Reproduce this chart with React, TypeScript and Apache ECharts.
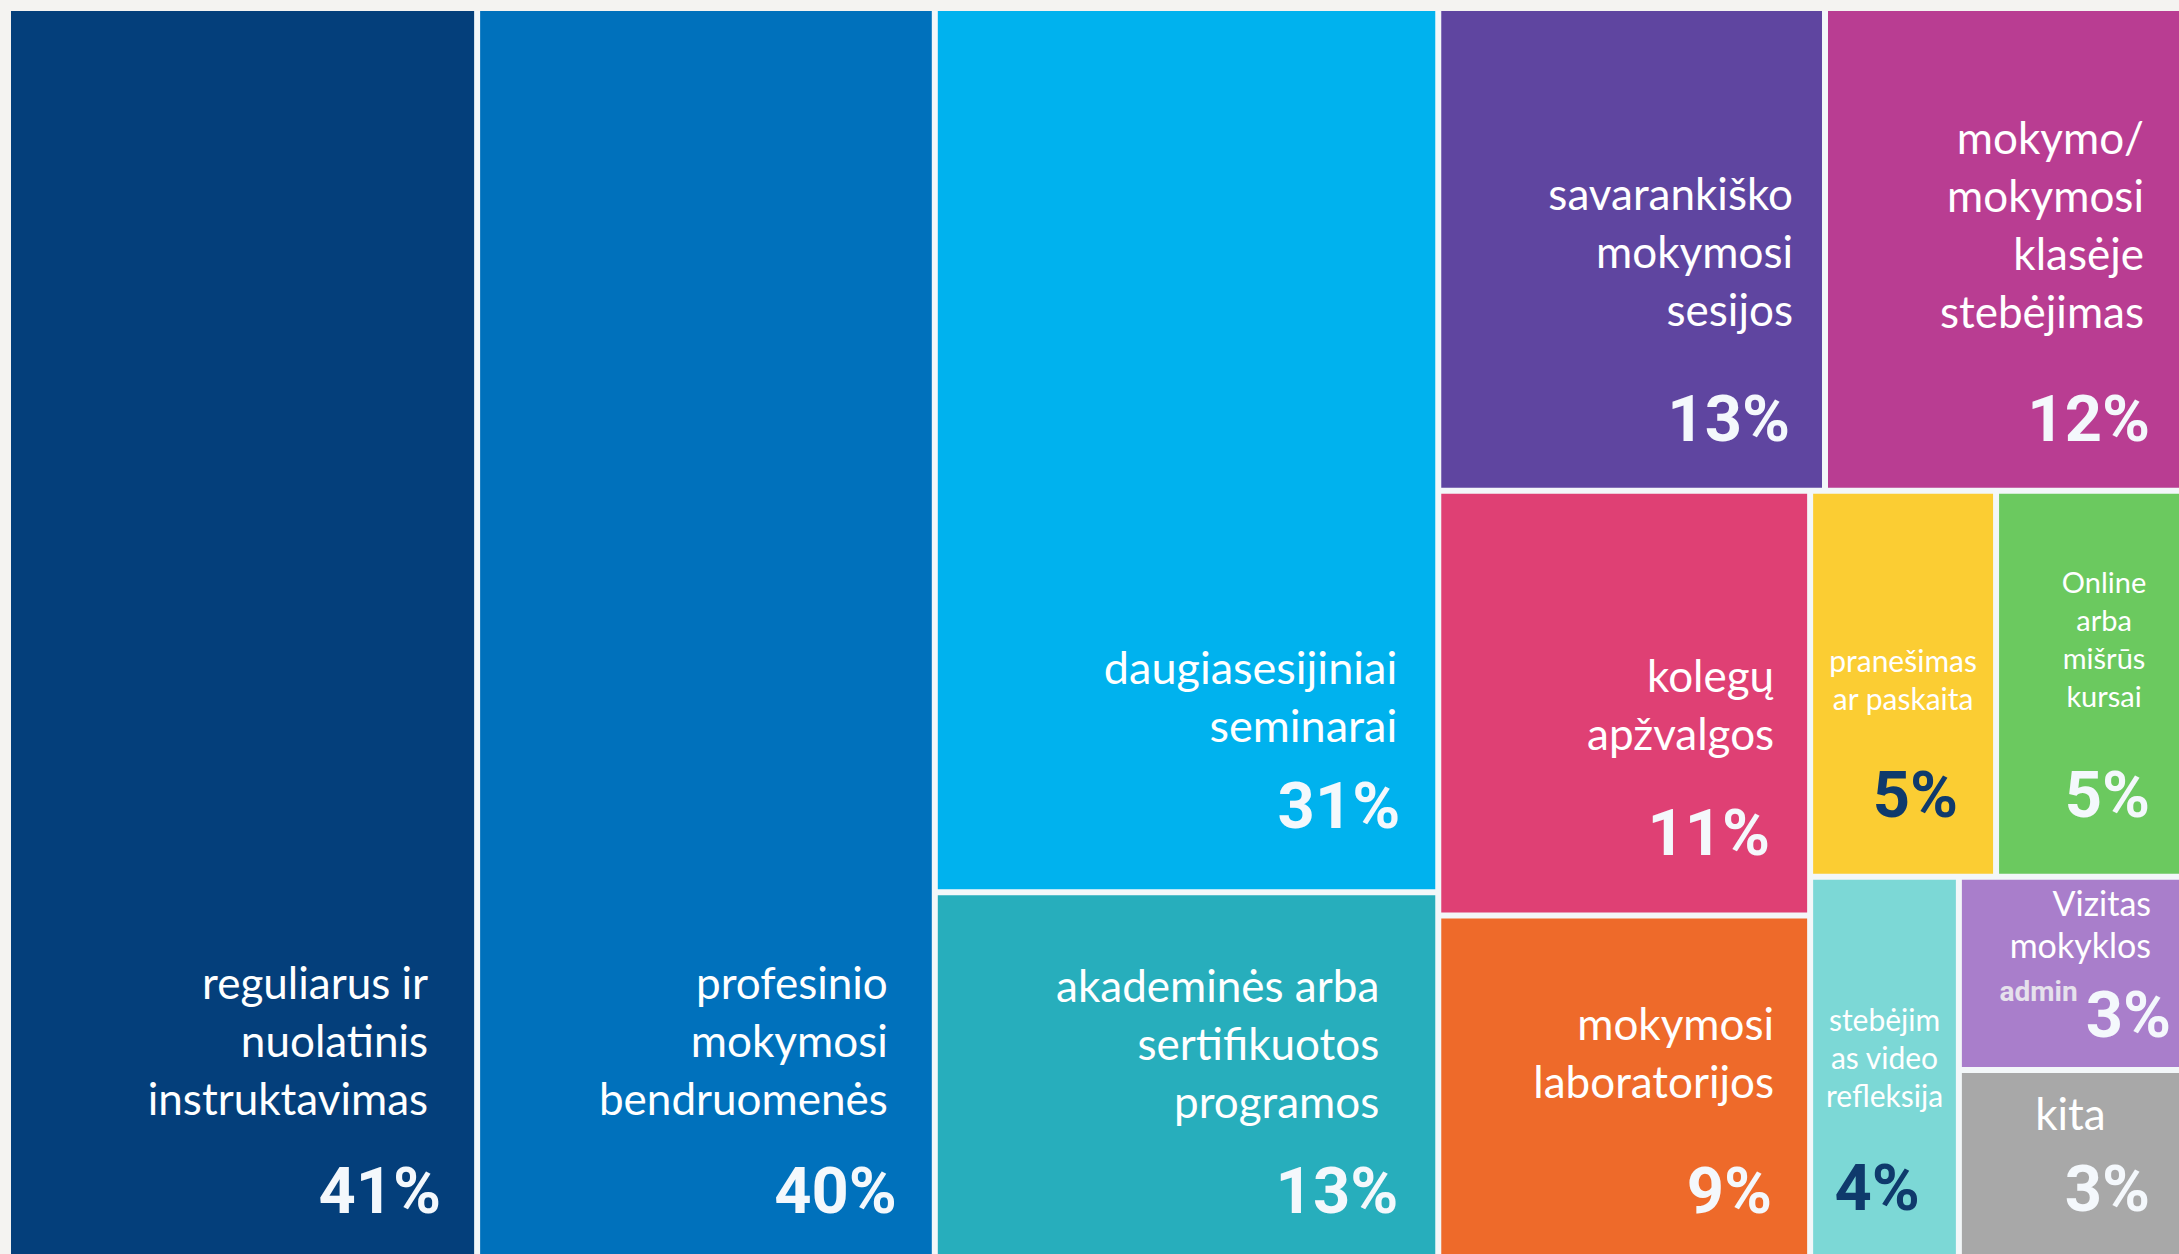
import React, { useEffect, useRef } from "react";
import * as echarts from "echarts";

// ---- data ----
const categories = [
  "reguliarus ir\nnuolatinis\ninstruktavimas",
  "profesinio\nmokymosi\nbendruomenės",
  "daugiasesijiniai\nseminarai",
  "akademinės arba\nsertifikuotos\nprogramos",
  "savarankiško\nmokymosi\nsesijos",
  "mokymo/\nmokymosi\nklasėje\nstebėjimas",
  "kolegų\napžvalgos",
  "mokymosi\nlaboratorijos",
  "pranešimas\nar paskaita",
  "Online\narba\nmišrūs\nkursai",
  "stebėjim\nas video\nrefleksija",
  "Vizitas\nmokyklos\nadmin",
  "kita",
];
const shares = [41, 40, 31, 13, 13, 12, 11, 9, 5, 5, 4, 3, 3];
const tileColors = [
  "#043F7B", "#0071BC", "#00B2EE", "#27AEBC", "#5F45A0", "#B93D92", "#DF4074",
  "#EE6A2A", "#FBCD33", "#6BC95F", "#7CD8D6", "#A97ECB", "#A8A8A8",
];
// how the tiles are grouped (indices into the arrays above)
const nesting: any[] = [[0, 1], [[2, 3], [[4, 5], [[6, 7], [[8, 9], [10, [11, 12]]]]]]];

// ---- styles ----
const NAME_FONT = "Lato, 'Open Sans', sans-serif";
const PCT_FONT = "Roboto, 'Open Sans', sans-serif";
const PCT_SIZE = 65;
const WHITE = "#F4F8FC";
const NAVY = "#0F3A6C";
const GAP = "#F3F7F9";

type Kind = "right" | "center" | "viz";
interface LabelStyle {
  kind: Kind; size: number; lh: number; namePad: number; nameLeftPad: number; pctPad: number;
  gap: number; fromBottom: number; pctColor: string;
}
const labelStyles: LabelStyle[] = [
  { kind: "right", size: 44, lh: 58, namePad: 46, nameLeftPad: 0, pctPad: 33, gap: 93, fromBottom: 69, pctColor: WHITE },
  { kind: "right", size: 44, lh: 58, namePad: 44, nameLeftPad: 0, pctPad: 35, gap: 93, fromBottom: 69, pctColor: WHITE },
  { kind: "right", size: 45, lh: 58, namePad: 38, nameLeftPad: 0, pctPad: 35, gap: 81, fromBottom: 83, pctColor: WHITE },
  { kind: "right", size: 44, lh: 58, namePad: 56, nameLeftPad: 0, pctPad: 37, gap: 90, fromBottom: 69, pctColor: WHITE },
  { kind: "right", size: 44, lh: 58, namePad: 29, nameLeftPad: 0, pctPad: 32, gap: 110, fromBottom: 69, pctColor: WHITE },
  { kind: "right", size: 44, lh: 58, namePad: 35, nameLeftPad: 0, pctPad: 29, gap: 108, fromBottom: 69, pctColor: WHITE },
  { kind: "right", size: 44, lh: 58, namePad: 33, nameLeftPad: 0, pctPad: 37, gap: 100, fromBottom: 79, pctColor: WHITE },
  { kind: "right", size: 44, lh: 58, namePad: 33, nameLeftPad: 0, pctPad: 35, gap: 110, fromBottom: 69, pctColor: WHITE },
  { kind: "center", size: 30, lh: 38, namePad: 0, nameLeftPad: 0, pctPad: 35, gap: 97, fromBottom: 79, pctColor: NAVY },
  { kind: "center", size: 29, lh: 38, namePad: 0, nameLeftPad: 30, pctPad: 29, gap: 99, fromBottom: 79, pctColor: WHITE },
  { kind: "center", size: 30, lh: 38, namePad: 0, nameLeftPad: 0, pctPad: 36, gap: 93, fromBottom: 72, pctColor: NAVY },
  { kind: "viz", size: 34, lh: 42, namePad: 28, nameLeftPad: 0, pctPad: 8, gap: 70, fromBottom: 52, pctColor: WHITE },
  { kind: "center", size: 44, lh: 58, namePad: 0, nameLeftPad: 0, pctPad: 29, gap: 76, fromBottom: 71, pctColor: WHITE },
];

const layoutByText = new Map<string, { height: number; bottom: number }>();

function makeLabel(i: number) {
  const s = labelStyles[i];
  const lines = categories[i].split("\n");
  const pct = `${shares[i]}%`;
  const nameLines = s.kind === "viz" ? lines.slice(0, -1) : lines;
  const lv = 2 * s.gap - s.lh;
  let text = nameLines.map((l) => `{n|${l}}`).join("\n");
  if (s.kind === "viz") text += `\n{a|${lines[lines.length - 1]}}{v|${pct}}`;
  else text += `\n{v|${pct}}`;
  layoutByText.set(text, { height: nameLines.length * s.lh + lv, bottom: s.fromBottom - lv / 2 });
  return {
    show: true,
    formatter: text,
    rich: {
      n: {
        fontFamily: NAME_FONT, fontSize: s.size, lineHeight: s.lh, color: "#FFFFFF",
        align: s.kind === "center" ? "center" : "right",
        padding: [0, s.namePad, 0, s.nameLeftPad],
      },
      v: {
        fontFamily: PCT_FONT, fontWeight: "bold", fontSize: PCT_SIZE, lineHeight: lv,
        color: s.pctColor, align: "right", padding: [0, s.pctPad, 0, 0],
      },
      a: {
        fontFamily: PCT_FONT, fontWeight: "bold", fontSize: 28, lineHeight: 40,
        color: "#E6E1EC", align: "right", verticalAlign: "top", padding: [12, 8, 0, 0],
      },
    },
  };
}

function build(spec: any): any {
  if (typeof spec === "number") {
    return {
      name: categories[spec].replace(/\n/g, " "),
      value: shares[spec],
      itemStyle: { color: tileColors[spec] },
      label: makeLabel(spec),
    };
  }
  return { name: "", children: spec.map(build) };
}

export default function App() {
  const ref = useRef<HTMLDivElement>(null);
  useEffect(() => {
    if (!ref.current) return;
    const chart = echarts.init(ref.current, undefined, { renderer: "svg" });
    const option: any = {
      animation: false,
      series: [
        {
          type: "treemap",
          left: 11,
          top: 11,
          width: 2168,
          height: 1249,
          squareRatio: 1.5,
          sort: false,
          roam: false,
          nodeClick: false,
          breadcrumb: { show: false },
          itemStyle: { borderWidth: 0, gapWidth: 6, borderColor: GAP },
          label: { show: true, padding: 0, overflow: "none" },
          upperLabel: { show: false },
          emphasis: { disabled: true },
          labelLayout: (p: any) => {
            const info = layoutByText.get(p.text);
            if (!info || !p.rect) return {};
            const r = p.rect;
            return {
              x: r.x + r.width,
              y: r.y + r.height - info.bottom - info.height,
              align: "right",
              verticalAlign: "top",
            };
          },
          data: nesting.map(build),
        },
      ],
    };
    chart.setOption(option);
    return () => chart.dispose();
  }, []);
  return (
    <div
      ref={ref}
      style={{ position: "fixed", left: 0, top: 0, width: 2179, height: 1254, background: "#F4F3F1" }}
    />
  );
}
